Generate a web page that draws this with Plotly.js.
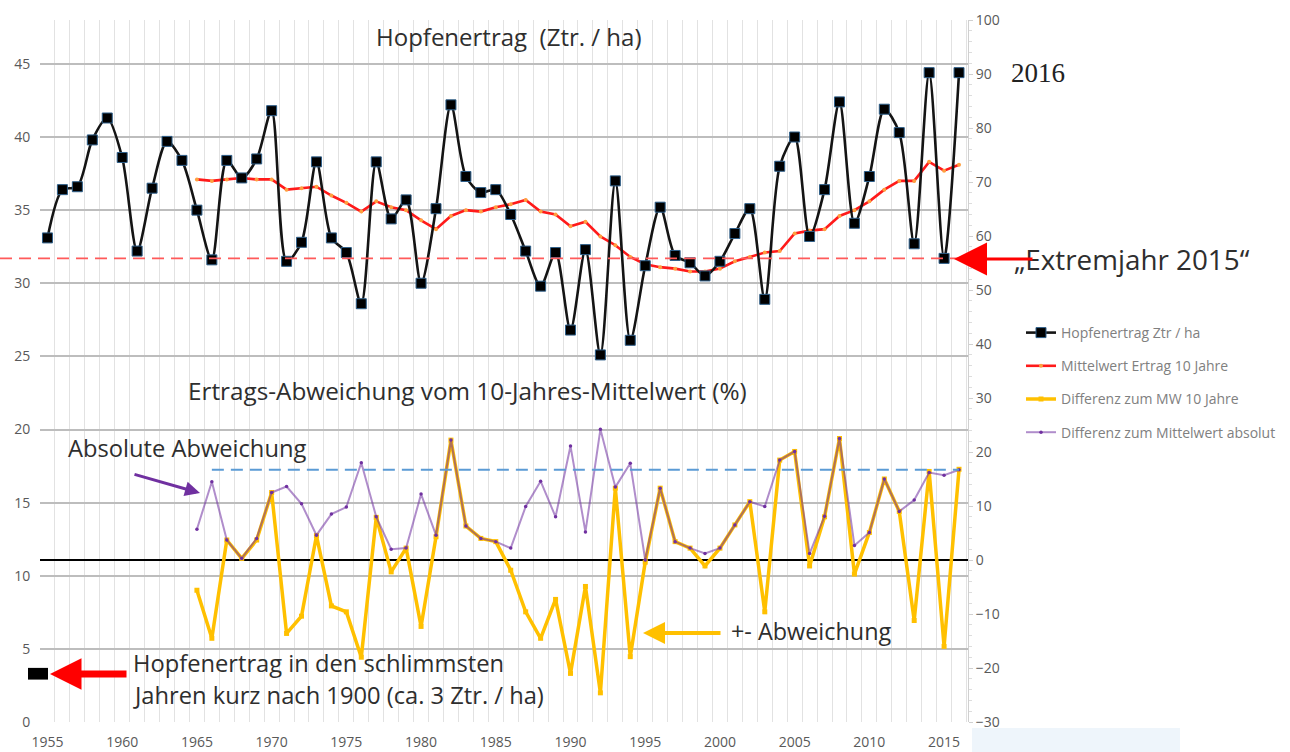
<!DOCTYPE html>
<html>
<head>
<meta charset="utf-8">
<script src="https://cdn.plot.ly/plotly-3.0.1.min.js"></script>
<style>html,body{margin:0;padding:0;background:#fff;}#chart{width:1290px;height:752px;}</style>
</head>
<body>
<div id="chart"></div>
<script>
// ---- data ----
const years = [1955,1956,1957,1958,1959,1960,1961,1962,1963,1964,1965,1966,1967,1968,1969,1970,1971,1972,1973,1974,1975,1976,1977,1978,1979,1980,1981,1982,1983,1984,1985,1986,1987,1988,1989,1990,1991,1992,1993,1994,1995,1996,1997,1998,1999,2000,2001,2002,2003,2004,2005,2006,2007,2008,2009,2010,2011,2012,2013,2014,2015,2016];
const yieldZtr = [33.1,36.4,36.6,39.8,41.3,38.6,32.2,36.5,39.7,38.4,35.0,31.6,38.4,37.2,38.5,41.8,31.5,32.8,38.3,33.1,32.1,28.6,38.3,34.4,35.7,30.0,35.1,42.2,37.3,36.2,36.4,34.7,32.2,29.8,32.1,26.8,32.3,25.1,37.0,26.1,31.2,35.2,31.9,31.4,30.5,31.5,33.4,35.1,28.9,38.0,40.0,33.2,36.4,42.4,34.1,37.3,41.9,40.3,32.7,44.4,31.7,44.4];
const maYears = [1965,1966,1967,1968,1969,1970,1971,1972,1973,1974,1975,1976,1977,1978,1979,1980,1981,1982,1983,1984,1985,1986,1987,1988,1989,1990,1991,1992,1993,1994,1995,1996,1997,1998,1999,2000,2001,2002,2003,2004,2005,2006,2007,2008,2009,2010,2011,2012,2013,2014,2015,2016];
const mean10 = [37.1,37.0,37.1,37.2,37.1,37.1,36.4,36.5,36.6,36.0,35.5,34.9,35.6,35.2,35.0,34.3,33.7,34.6,35.0,34.9,35.2,35.4,35.7,34.9,34.7,33.9,34.2,33.2,32.6,31.8,31.3,31.1,31.0,30.8,30.8,31.0,31.5,31.8,32.1,32.2,33.4,33.6,33.7,34.6,35.0,35.6,36.4,37.0,37.0,38.3,37.7,38.1];
const diffPct = [-5.6,-14.5,3.7,0.3,3.7,12.5,-13.6,-10.4,4.5,-8.5,-9.6,-18.0,7.9,-2.2,2.2,-12.3,4.3,22.2,6.3,4.0,3.4,-1.9,-9.6,-14.5,-7.3,-21.0,-4.9,-24.6,13.3,-17.9,-0.4,13.3,3.4,2.2,-1.1,2.2,6.5,10.8,-9.6,18.5,20.1,-1.1,8.0,22.5,-2.6,5.1,15.0,9.0,-11.2,16.4,-16.0,16.8];
const absPct = [5.7,14.5,3.7,0.3,4.0,12.5,13.6,10.4,4.6,8.5,9.8,18.0,8.0,2.0,2.2,12.2,4.6,22.2,6.3,4.0,3.4,2.2,9.9,14.6,8.0,21.1,5.2,24.2,13.5,17.9,0.0,13.3,3.4,2.2,1.2,2.2,6.5,10.8,9.9,18.5,20.1,1.2,8.1,22.5,2.7,5.1,15.0,9.0,11.1,16.2,15.7,16.7];
const worstYield = 3.3;               // "ca. 3 Ztr. / ha" marker
const seriesNames = ["Hopfenertrag Ztr / ha","Mittelwert Ertrag 10 Jahre","Differenz zum MW 10 Jahre","Differenz zum Mittelwert absolut"];
const xTicks = [1955,1960,1965,1970,1975,1980,1985,1990,1995,2000,2005,2010,2015];

const extremeLevel = yieldZtr[years.indexOf(2015)];
const absLevel = absPct[maYears.indexOf(2016)];

const FONT = "'Open Sans', Lato, sans-serif";
const GRAY = "#595959";

const traces = [
  {x: maYears, y: diffPct, yaxis: 'y2', type: 'scatter', mode: 'lines+markers', name: seriesNames[2],
   legendgroup: 'c', legendrank: 3,
   line: {color: '#ffc000', width: 3.5}, marker: {symbol: 'square', size: 5, color: '#ffc000'}},
  {x: maYears, y: absPct, yaxis: 'y2', type: 'scatter', mode: 'lines+markers', name: seriesNames[3],
   legendgroup: 'd', legendrank: 4,
   line: {color: 'rgba(112,48,160,0.55)', width: 2}, marker: {symbol: 'circle', size: 3.5, color: '#7030a0'}},
  {x: maYears, y: mean10, type: 'scatter', mode: 'lines+markers', name: seriesNames[1],
   legendgroup: 'b', legendrank: 2,
   line: {color: '#ff1a1a', width: 2.6}, marker: {symbol: 'circle', size: 4, color: '#ffa040'}},
  {x: years, y: yieldZtr, type: 'scatter', mode: 'lines+markers', name: seriesNames[0],
   legendgroup: 'a', legendrank: 1,
   line: {color: '#141414', width: 2.6, shape: 'spline', smoothing: 0.8},
   marker: {symbol: 'square', size: 10, color: '#000000', line: {color: '#2e5f8a', width: 1}}}
];

const px = v => (v - 40) / 928;     // helper: page x -> paper
const py = v => (722 - v) / 702;    // helper: page y -> paper

function label(x, y, text, size, xanchor, extra) {
  return Object.assign({xref: 'paper', yref: 'paper', x: px(x), y: py(y), xanchor: xanchor || 'center',
    yanchor: 'middle', showarrow: false, text: text,
    font: {family: FONT, size: size, color: '#2e2e2e'}}, extra || {});
}
function arrow(x, y, ax, ay, width, size, color) {
  return {xref: 'paper', yref: 'paper', x: px(x), y: py(y), text: '', showarrow: true,
    ax: ax, ay: ay, arrowhead: 2, arrowsize: size, arrowwidth: width, arrowcolor: color};
}

const layout = {
  width: 1290, height: 752,
  margin: {l: 40, r: 322, t: 20, b: 30, autoexpand: false},
  paper_bgcolor: '#ffffff', plot_bgcolor: '#ffffff',
  font: {family: FONT, color: GRAY, size: 13},
  showlegend: true,
  legend: {x: px(1021), y: py(317), xanchor: 'left', yanchor: 'top',
           font: {family: FONT, size: 14, color: '#808080'},
           tracegroupgap: 12, bgcolor: 'rgba(0,0,0,0)', traceorder: 'grouped'},
  xaxis: {range: [1954.5, 2016.6], tickmode: 'array', tickvals: xTicks, ticktext: xTicks.map(String),
          showgrid: false, zeroline: false, showline: false, automargin: false,
          ticks: 'outside', ticklen: 7, tickcolor: 'rgba(0,0,0,0)',
          tickfont: {size: 14, color: GRAY},
          minor: {tick0: 1954.5, dtick: 1, showgrid: true, gridcolor: '#e2e2e2', gridwidth: 1}},
  yaxis: {range: [0, 48], tick0: 0, dtick: 5, showgrid: true, gridcolor: '#bdbdbd', gridwidth: 2,
          zeroline: false, showline: false, automargin: false,
          ticks: 'outside', ticklen: 6, tickcolor: 'rgba(0,0,0,0)',
          tickfont: {size: 14, color: GRAY}},
  yaxis2: {range: [-30, 100], tick0: 0, dtick: 10, overlaying: 'y', side: 'right',
           showgrid: false, zeroline: true, zerolinecolor: '#000000', zerolinewidth: 2,
           showline: true, linecolor: '#d0d0d0', linewidth: 1, automargin: false,
           ticks: 'outside', ticklen: 4, tickcolor: '#d0d0d0',
           minor: {dtick: 2, ticks: 'outside', ticklen: 3, tickcolor: '#dddddd'},
           tickfont: {size: 14, color: GRAY}},
  shapes: [
    {type: 'line', xref: 'paper', yref: 'y', x0: px(0), x1: 1, y0: extremeLevel, y1: extremeLevel,
     line: {color: '#ff5a5a', width: 1.6, dash: '12px,7px'}},
    {type: 'line', xref: 'x', yref: 'y2', x0: 1966, x1: 2016, y0: absLevel, y1: absLevel,
     line: {color: '#5b9bd5', width: 2, dash: '12px,7px'}},
    {type: 'rect', xref: 'paper', yref: 'y', x0: px(28), x1: px(48), y0: worstYield - 0.4, y1: worstYield + 0.4,
     fillcolor: '#000000', line: {color: '#000000', width: 0}},
    {type: 'rect', xref: 'paper', yref: 'paper', x0: px(972), x1: px(1180), y0: py(752), y1: py(728),
     fillcolor: '#eef5fb', line: {width: 0}, layer: 'below'}
  ],
  annotations: [
    label(508, 37, 'Hopfenertrag\u00a0\u00a0(Ztr. / ha)', 24),
    label(467, 390, 'Ertrags-Abweichung vom 10-Jahres-Mittelwert (%)', 24.3),
    label(66, 448, 'Absolute Abweichung', 23.7, 'left'),
    arrow(200, 493, -67, -19, 3, 1, '#7030a0'),
    label(131, 663, 'Hopfenertrag in den schlimmsten', 23.7, 'left'),
    label(131, 695, 'Jahren kurz nach 1900 (ca. 3 Ztr. / ha)', 23.7, 'left'),
    arrow(50, 674, 78, 0, 7, 0.9, '#ff0000'),
    label(729, 631, '+- Abweichung', 23.4, 'left'),
    arrow(643, 633, 79, 0, 4, 1.1, '#ffc000'),
    label(1012, 259, '\u201EExtremjahr 2015\u201C', 27.8, 'left'),
    arrow(954, 259, 80, 0, 3, 2.2, '#ff0000'),
    label(1009, 73, '2016', 27, 'left', {font: {family: "'Liberation Serif', 'DejaVu Serif', serif", size: 27, color: '#222222'}})
  ]
};

Plotly.newPlot('chart', traces, layout, {displayModeBar: false, responsive: false});
</script>
</body>
</html>
